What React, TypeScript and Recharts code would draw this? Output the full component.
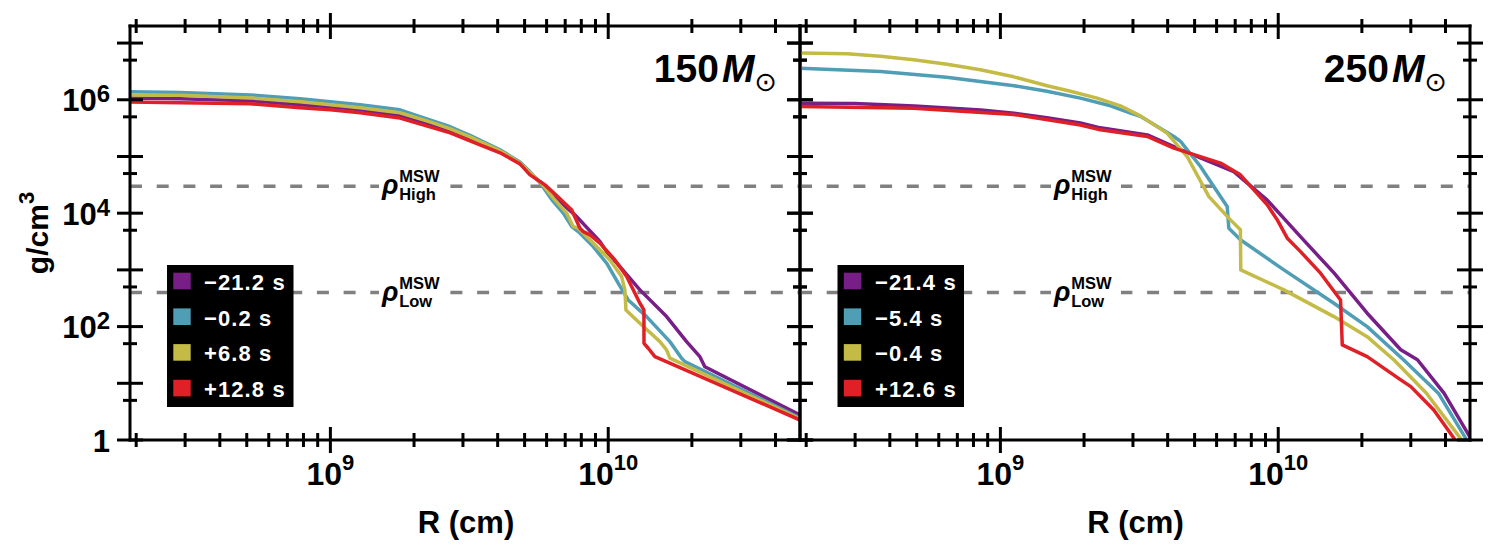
import React from 'react';
import { LineChart, Line, XAxis, YAxis, ReferenceLine } from 'recharts';

const FONT = '"Liberation Sans", Arial, Helvetica, sans-serif';
const INK = '#000';

// axes (shared by both panels)
const X_DOMAIN: [number, number] = [1.9e8, 4.9e10];
const Y_DOMAIN: [number, number] = [1, 2e7];
const X_TICKS = [
  2e8, 3e8, 4e8, 5e8, 6e8, 7e8, 8e8, 9e8, 1e9,
  2e9, 3e9, 4e9, 5e9, 6e9, 7e9, 8e9, 9e9, 1e10,
  2e10, 3e10, 4e10,
];
const Y_TICKS = [1, 5, 10, 50, 100, 500, 1e3, 5e3, 1e4, 5e4, 1e5, 5e5, 1e6, 5e6, 1e7];
const X_LABELED = [1e9, 1e10];
const Y_LABELED = [1, 1e2, 1e4, 1e6];

// MSW resonance densities (g/cm^3)
const RHO_HIGH = 3e4;
const RHO_LOW = 4e2;

const PURPLE = '#771f86';
const BLUE = '#509db6';
const YELLOW = '#c4bb46';
const RED = '#df2127';

// 150 Msun progenitor: [R (cm), density (g/cm^3)]
const M150_T_M21_2: [number, number][] = [
  [1.9e8, 1.07e6], [2.88e8, 1.04e6], [5.15e8, 9.6e5], [7.78e8, 8.15e5], [1e9, 7.5e5],
  [1.28e9, 6.66e5], [1.78e9, 5.22e5], [2.28e9, 3.69e5], [2.7e9, 2.84e5], [3.18e9, 2.05e5],
  [4.08e9, 1.21e5], [4.81e9, 7.7e4], [5.23e9, 4.94e4], [5.82e9, 3.29e4], [6.49e9, 1.86e4],
  [7.7e9, 8.71e3], [9.33e9, 3.16e3], [9.87e9, 2.1e3], [1.102e10, 1.14e3], [1.3e10, 444],
  [1.622e10, 150], [1.914e10, 54.3], [2.137e10, 29.5], [2.227e10, 19.6], [4.9e10, 2.76],
];
const M150_T_M0_2: [number, number][] = [
  [1.9e8, 1.38e6], [2.88e8, 1.35e6], [5.15e8, 1.22e6], [7.78e8, 1.04e6], [1e9, 9.2e5],
  [1.28e9, 8.15e5], [1.78e9, 6.66e5], [2.28e9, 4.43e5], [2.7e9, 3.34e5], [3.18e9, 2.36e5],
  [4.08e9, 1.31e5], [4.81e9, 8.0e4], [5.23e9, 5.36e4], [5.68e9, 3.43e4], [6.27e9, 1.72e4],
  [6.89e9, 1.0e4], [7.39e9, 5.81e3], [7.8e9, 4.74e3], [8.83e9, 2.58e3], [9.87e9, 1.31e3],
  [1.086e10, 582], [1.18e10, 295], [1.374e10, 150], [1.667e10, 54.3], [1.837e10, 27.7],
  [1.888e10, 24.1], [4.9e10, 2.44],
];
const M150_T_P6_8: [number, number][] = [
  [1.9e8, 1.22e6], [2.88e8, 1.2e6], [5.15e8, 1.08e6], [7.78e8, 9.21e5], [1e9, 8.15e5],
  [1.28e9, 7.21e5], [1.78e9, 5.9e5], [2.28e9, 4.08e5], [2.7e9, 3.07e5], [3.18e9, 2.22e5],
  [4.08e9, 1.26e5], [4.81e9, 7.7e4], [5.23e9, 5.14e4], [5.77e9, 3.29e4], [6.38e9, 1.79e4],
  [7.09e9, 1.0e4], [7.48e9, 5.81e3], [7.8e9, 5.44e3], [8.48e9, 3.62e3], [1.014e10, 1.5e3],
  [1.117e10, 762], [1.148e10, 444], [1.158e10, 197], [1.3e10, 115], [1.535e10, 54.3],
  [1.622e10, 38.7], [1.667e10, 27.7], [4.9e10, 2.35],
];
const M150_T_P12_8: [number, number][] = [
  [1.9e8, 9.1e5], [2.88e8, 8.84e5], [5.15e8, 8.5e5], [7.78e8, 7.21e5], [1e9, 6.66e5],
  [1.28e9, 5.89e5], [1.78e9, 4.75e5], [2.28e9, 3.33e5], [2.7e9, 2.61e5], [3.18e9, 1.89e5],
  [4.08e9, 1.16e5], [4.81e9, 7.4e4], [5.23e9, 4.74e4], [5.92e9, 3.16e4], [6.59e9, 1.94e4],
  [7.39e9, 1.14e4], [7.91e9, 5.44e3], [8.13e9, 4.74e3], [8.6e9, 4.14e3], [9.33e9, 2.96e3],
  [1.057e10, 1.5e3], [1.165e10, 762], [1.3e10, 258], [1.344e10, 197], [1.345e10, 50.8],
  [1.393e10, 41.5], [1.472e10, 29.5], [4.9e10, 2.25],
];

// 250 Msun progenitor
const M250_T_M21_4: [number, number][] = [
  [1.9e8, 8.7e5], [3.0e8, 8.6e5], [4.9e8, 7.8e5], [8.5e8, 6.6e5], [1.12e9, 5.8e5],
  [1.47e9, 4.8e5], [1.94e9, 3.9e5], [2.29e9, 3.2e5], [3.38e9, 2.4e5], [4.21e9, 1.5e5],
  [5.25e9, 9.4e4], [6.92e9, 5.4e4], [9.13e9, 1.7e4], [1.2e10, 3.9e3], [1.59e10, 875],
  [2.09e10, 172], [2.76e10, 39], [3.17e10, 26], [3.95e10, 6.7], [4.93e10, 1.07], [5.1e10, 0.7],
];
const M250_T_M5_4: [number, number][] = [
  [1.9e8, 3.6e6], [3.7e8, 3.15e6], [6.4e8, 2.5e6], [1.12e9, 1.77e6], [1.47e9, 1.41e6],
  [1.94e9, 1.07e6], [2.49e9, 7.83e5], [2.94e9, 5.8e5], [3.19e9, 5.1e5], [4.21e9, 2.25e5],
  [4.45e9, 1.84e5], [5.25e9, 6.65e4], [5.86e9, 2.95e4], [6.55e9, 1.31e4], [6.64e9, 5.4e3],
  [7.31e9, 3.4e3], [1.048e10, 1.0e3], [1.586e10, 258], [2.09e10, 99.8], [2.83e10, 25.8],
  [3.77e10, 6.7], [4.73e10, 1.07], [4.9e10, 0.7],
];
const M250_T_M0_4: [number, number][] = [
  [1.9e8, 6.67e6], [2.81e8, 6.48e6], [3.7e8, 5.85e6], [4.87e8, 5.08e6], [6.43e8, 4.23e6],
  [8.47e8, 3.38e6], [1.117e9, 2.54e6], [1.473e9, 1.77e6], [1.787e9, 1.41e6], [2.23e9, 1.07e6],
  [2.705e9, 7.83e5], [3.19e9, 5.2e5], [3.98e9, 2.58e5], [4.7e9, 9.98e4], [5.63e9, 1.96e4],
  [6.73e9, 7.62e3], [7.31e9, 5.08e3], [7.33e9, 1.0e3], [1.048e10, 444], [1.586e10, 150],
  [2.09e10, 66.5], [2.61e10, 25.8], [3.41e10, 6.75], [4.53e10, 1.07], [4.7e10, 0.7],
];
const M250_T_P12_6: [number, number][] = [
  [1.9e8, 7.6e5], [4.87e8, 7.1e5], [1.117e9, 5.5e5], [1.942e9, 3.6e5], [2.29e9, 2.95e5],
  [3.38e9, 2.25e5], [4.21e9, 1.4e5], [6.2e9, 7.64e4], [7.31e9, 4.74e4], [9.13e9, 1.4e4],
  [9.92e9, 7.62e3], [1.078e10, 3.62e3], [1.203e10, 2.1e3], [1.42e10, 875], [1.676e10, 295],
  [1.7e10, 47.5], [2.09e10, 29.5], [2.76e10, 11.5], [3.0e10, 8.73], [3.63e10, 3.38],
  [4.29e10, 1.07], [4.5e10, 0.7],
];

type Series = { label: string; color: string; points: [number, number][] };

const SERIES_150: Series[] = [
  { label: '\u221221.2 s', color: PURPLE, points: M150_T_M21_2 },
  { label: '\u22120.2 s', color: BLUE, points: M150_T_M0_2 },
  { label: '+6.8 s', color: YELLOW, points: M150_T_P6_8 },
  { label: '+12.8 s', color: RED, points: M150_T_P12_8 },
];
const SERIES_250: Series[] = [
  { label: '\u221221.4 s', color: PURPLE, points: M250_T_M21_4 },
  { label: '\u22125.4 s', color: BLUE, points: M250_T_M5_4 },
  { label: '\u22120.4 s', color: YELLOW, points: M250_T_M0_4 },
  { label: '+12.6 s', color: RED, points: M250_T_P12_6 },
];

const isDecade = (v: number) => Math.abs(Math.log10(v) - Math.round(Math.log10(v))) < 1e-6;

function PowerLabel({ x, y, v, anchor, size, supSize, rise }: any) {
  const e = Math.round(Math.log10(v));
  return (
    <text x={x} y={y} textAnchor={anchor} fontFamily={FONT} fontWeight="bold" fontSize={size} fill={INK}>
      {e === 0 ? '1' : '10'}
      {e !== 0 && (
        <tspan dy={-rise} fontSize={supSize}>
          {String(e)}
        </tspan>
      )}
    </text>
  );
}

const makeXTick = (labels: boolean) => (props: any) => {
  const { x, y, payload } = props;
  const v = payload.value as number;
  const len = isDecade(v) ? 13 : 7;
  return (
    <g>
      <line x1={x} x2={x} y1={y - len} y2={y + len} stroke={INK} strokeWidth={3} />
      {labels && X_LABELED.includes(v) && (
        <PowerLabel x={x} y={y + 45} v={v} anchor="middle" size={32} supSize={22} rise={15} />
      )}
    </g>
  );
};

const makeYTick = (labels: boolean) => (props: any) => {
  const { x, y, payload } = props;
  const v = payload.value as number;
  const len = isDecade(v) ? 13 : 7;
  return (
    <g>
      <line x1={x - len} x2={x + len} y1={y} y2={y} stroke={INK} strokeWidth={3} />
      {labels && Y_LABELED.includes(v) && (
        <PowerLabel x={x - 20} y={y + 11.5} v={v} anchor="end" size={31} supSize={24} rise={9} />
      )}
    </g>
  );
};

const axisLine = { stroke: INK, strokeWidth: 3, strokeLinecap: 'square' as const };

function Panel({ left, width, margin, series, yLabels }: any) {
  const common = {
    type: 'number' as const,
    scale: 'log' as const,
    allowDataOverflow: true,
    interval: 0 as const,
    tickSize: 0,
    tickMargin: 0,
    tickLine: false,
    axisLine,
  };
  return (
    <div style={{ position: 'absolute', left, top: 0 }}>
      <LineChart width={width} height={546} margin={margin}>
        <XAxis xAxisId="b" orientation="bottom" dataKey="r" domain={X_DOMAIN} ticks={X_TICKS} height={1} tick={makeXTick(true)} {...common} />
        <XAxis xAxisId="t" orientation="top" dataKey="r" domain={X_DOMAIN} ticks={X_TICKS} height={1} tick={makeXTick(false)} {...common} />
        <YAxis yAxisId="l" orientation="left" dataKey="rho" domain={Y_DOMAIN} ticks={Y_TICKS} width={1} tick={makeYTick(yLabels)} {...common} />
        <YAxis yAxisId="r" orientation="right" dataKey="rho" domain={Y_DOMAIN} ticks={Y_TICKS} width={1} tick={makeYTick(false)} {...common} />
        <ReferenceLine xAxisId="b" yAxisId="l" y={RHO_HIGH} stroke="#808080" strokeWidth={3.5} strokeDasharray="12 14.7" />
        <ReferenceLine xAxisId="b" yAxisId="l" y={RHO_LOW} stroke="#808080" strokeWidth={3.5} strokeDasharray="12 14.7" />
        {series.map((s: Series) => (
          <Line
            key={s.label}
            xAxisId="b"
            yAxisId="l"
            data={s.points.map(([r, rho]) => ({ r, rho }))}
            dataKey="rho"
            type="linear"
            stroke={s.color}
            strokeWidth={3.5}
            strokeLinejoin="round"
            dot={false}
            activeDot={false}
            isAnimationActive={false}
          />
        ))}
      </LineChart>
    </div>
  );
}

function Legend({ x, y, series, textX }: { x: number; y: number; series: Series[]; textX: number }) {
  return (
    <g>
      <rect x={x} y={y} width={126.5} height={142} fill="#000" />
      {series.map((s, i) => (
        <g key={s.label}>
          <rect x={x + 6.3} y={y + 7.7 + i * 35.7} width={17.4} height={16.6} fill={s.color} />
          <text
            x={textX}
            y={y + 24.8 + i * 35.7}
            fontFamily={FONT}
            fontWeight="bold"
            fontSize={22}
            letterSpacing={1.1}
            fill="#fff"
          >
            {s.label}
          </text>
        </g>
      ))}
    </g>
  );
}

// ρ with stacked MSW superscript and High/Low subscript
function RhoLabel({ x, lineY, sub }: { x: number; lineY: number; sub: string }) {
  return (
    <g>
      <rect x={x - 4} y={lineY - 19} width={70} height={38} fill="#fff" />
      <text x={x - 1} y={lineY + 8} fontFamily={FONT} fontWeight="bold" fontStyle="italic" fontSize={27} fill={INK}>
        ρ
      </text>
      <text x={x + 16.2} y={lineY - 4.5} fontFamily={FONT} fontWeight="bold" fontSize={16.5} fill={INK}>
        MSW
      </text>
      <text x={x + 16.2} y={lineY + 13.5} fontFamily={FONT} fontWeight="bold" fontSize={16.5} fill={INK}>
        {sub}
      </text>
    </g>
  );
}

function Title({ right, mass }: { right: number; mass: string }) {
  return (
    <text x={right} y={81.7} textAnchor="end" fontFamily={FONT} fontWeight="bold" fontSize={39} fill={INK}>
      {mass}
      <tspan fontStyle="italic" dx={3}>M</tspan>
      <tspan fontFamily='"DejaVu Sans", sans-serif' fontWeight="normal" fontSize={27} dy={9}>
        ⊙
      </tspan>
    </text>
  );
}

function Overlay() {
  return (
    <svg width={1495} height={546} style={{ position: 'absolute', left: 0, top: 0, pointerEvents: 'none' }}>
      <Title right={777} mass="150" />
      <Title right={1447} mass="250" />
      <RhoLabel x={383} lineY={186} sub="High" />
      <RhoLabel x={383} lineY={293} sub="Low" />
      <RhoLabel x={1055} lineY={186} sub="High" />
      <RhoLabel x={1055} lineY={293} sub="Low" />
      <Legend x={167} y={265} series={SERIES_150} textX={204} />
      <Legend x={837.5} y={265} series={SERIES_250} textX={875} />
      <text x={466} y={533} textAnchor="middle" fontFamily={FONT} fontWeight="bold" fontSize={31} fill={INK}>
        R (cm)
      </text>
      <text x={1135.5} y={533} textAnchor="middle" fontFamily={FONT} fontWeight="bold" fontSize={31} fill={INK}>
        R (cm)
      </text>
      <text
        x={0}
        y={0}
        transform="translate(48 233) rotate(-90)"
        textAnchor="middle"
        fontFamily={FONT}
        fontWeight="bold"
        fontSize={30}
        fill={INK}
      >
        g/cm
        <tspan dy={-14} fontSize={22}>3</tspan>
      </text>
    </svg>
  );
}

export default function App() {
  return (
    <div style={{ position: 'absolute', left: 0, top: 0, width: 1495, height: 546, background: '#fff' }}>
      <Panel left={0} width={820} margin={{ left: 129, right: 19, top: 25, bottom: 105 }} series={SERIES_150} yLabels />
      <Panel left={780} width={715} margin={{ left: 19, right: 24, top: 25, bottom: 105 }} series={SERIES_250} yLabels={false} />
      <Overlay />
    </div>
  );
}
